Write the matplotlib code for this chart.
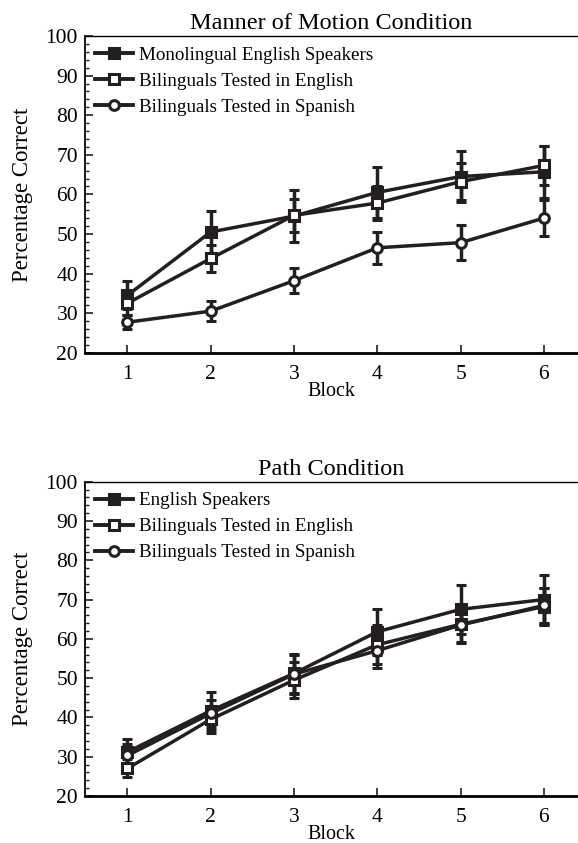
import numpy as np
from matplotlib import pyplot as plt
from matplotlib.lines import Line2D
from matplotlib.ticker import MultipleLocator

plt.rcParams['font.family'] = ['Liberation Serif', 'DejaVu Serif']

blocks = [1, 2, 3, 4, 5, 6]

# Manner of Motion condition
mm_mono = [34.5, 50.5, 54.5, 60.5, 64.5, 65.7]
mm_mono_err = [3.5, 5.3, 6.5, 6.5, 6.5, 6.6]
mm_bil_en = [32.5, 43.8, 54.7, 57.8, 63.2, 67.3]
mm_bil_en_err = [3.0, 3.3, 4.2, 4.3, 4.7, 5.0]
mm_bil_sp = [27.7, 30.5, 38.2, 46.5, 47.8, 54.0]
mm_bil_sp_err = [1.8, 2.6, 3.2, 4.0, 4.4, 4.6]

# Path condition
pa_mono = [31.2, 41.7, 51.2, 61.8, 67.5, 70.0]
pa_mono_err = [3.3, 4.8, 5.0, 5.8, 6.3, 6.3]
pa_bil_en = [27.0, 39.5, 49.5, 58.5, 63.7, 68.2]
pa_bil_en_err = [2.3, 3.5, 4.5, 5.0, 4.5, 4.8]
pa_bil_sp = [30.3, 41.0, 51.0, 57.0, 63.5, 68.5]
pa_bil_sp_err = [3.0, 3.5, 5.0, 4.5, 4.5, 4.5]

ink = '#231f20'
fig = plt.figure(figsize=(5.78, 8.43), dpi=100)


def panel(ax, title, series):
    styles = [('s', ink), ('s', 'white'), ('o', 'white')]
    handles = []
    for (vals, errs, lab), (mk, fc) in zip(series, styles):
        ax.errorbar(blocks, vals, yerr=errs, color=ink, lw=2.5,
                    elinewidth=2.5, capsize=3.8, capthick=2.8,
                    marker=mk, markersize=7, markerfacecolor=fc,
                    markeredgecolor=ink, markeredgewidth=2.2)
        handles.append(Line2D([], [], color=ink, lw=2.8, marker=mk,
                              markersize=7, markerfacecolor=fc,
                              markeredgecolor=ink, markeredgewidth=2.2,
                              label=lab))
    ax.set_xlim(0.49, 6.41)
    ax.set_ylim(20, 100)
    ax.set_xticks(blocks)
    ax.yaxis.set_major_locator(MultipleLocator(10))
    ax.yaxis.set_minor_locator(MultipleLocator(2))
    ax.tick_params(axis='both', which='major', direction='in', length=6,
                   width=1.2, labelsize=15.5, color=ink)
    ax.tick_params(axis='y', which='major', pad=5)
    ax.tick_params(axis='x', which='major', pad=8.5)
    ax.tick_params(axis='y', which='minor', direction='in', length=3,
                   width=1.0, color=ink)
    ax.spines['right'].set_visible(False)
    ax.spines['bottom'].set_linewidth(2.0)
    ax.spines['left'].set_linewidth(1.3)
    ax.spines['top'].set_linewidth(1.0)
    ax.set_title(title, fontsize=17.5, pad=5)
    ax.set_xlabel('Block', fontsize=14.5, labelpad=-1)
    ax.set_ylabel('Percentage Correct', fontsize=16.5, labelpad=9)
    ax.legend(handles=handles, loc='upper left', frameon=False,
              fontsize=13.7, handlelength=2.0, handletextpad=0.3,
              borderaxespad=0.1, labelspacing=0.45, borderpad=0.45)


ax1 = fig.add_axes([0.147, 0.5816, 0.853, 0.3757])
panel(ax1, 'Manner of Motion Condition',
      [(mm_mono, mm_mono_err, 'Monolingual English Speakers'),
       (mm_bil_en, mm_bil_en_err, 'Bilinguals Tested in English'),
       (mm_bil_sp, mm_bil_sp_err, 'Bilinguals Tested in Spanish')])

ax2 = fig.add_axes([0.147, 0.0558, 0.853, 0.3728])
panel(ax2, 'Path Condition',
      [(pa_mono, pa_mono_err, 'English Speakers'),
       (pa_bil_en, pa_bil_en_err, 'Bilinguals Tested in English'),
       (pa_bil_sp, pa_bil_sp_err, 'Bilinguals Tested in Spanish')])

plt.savefig('out.png', dpi=100)
